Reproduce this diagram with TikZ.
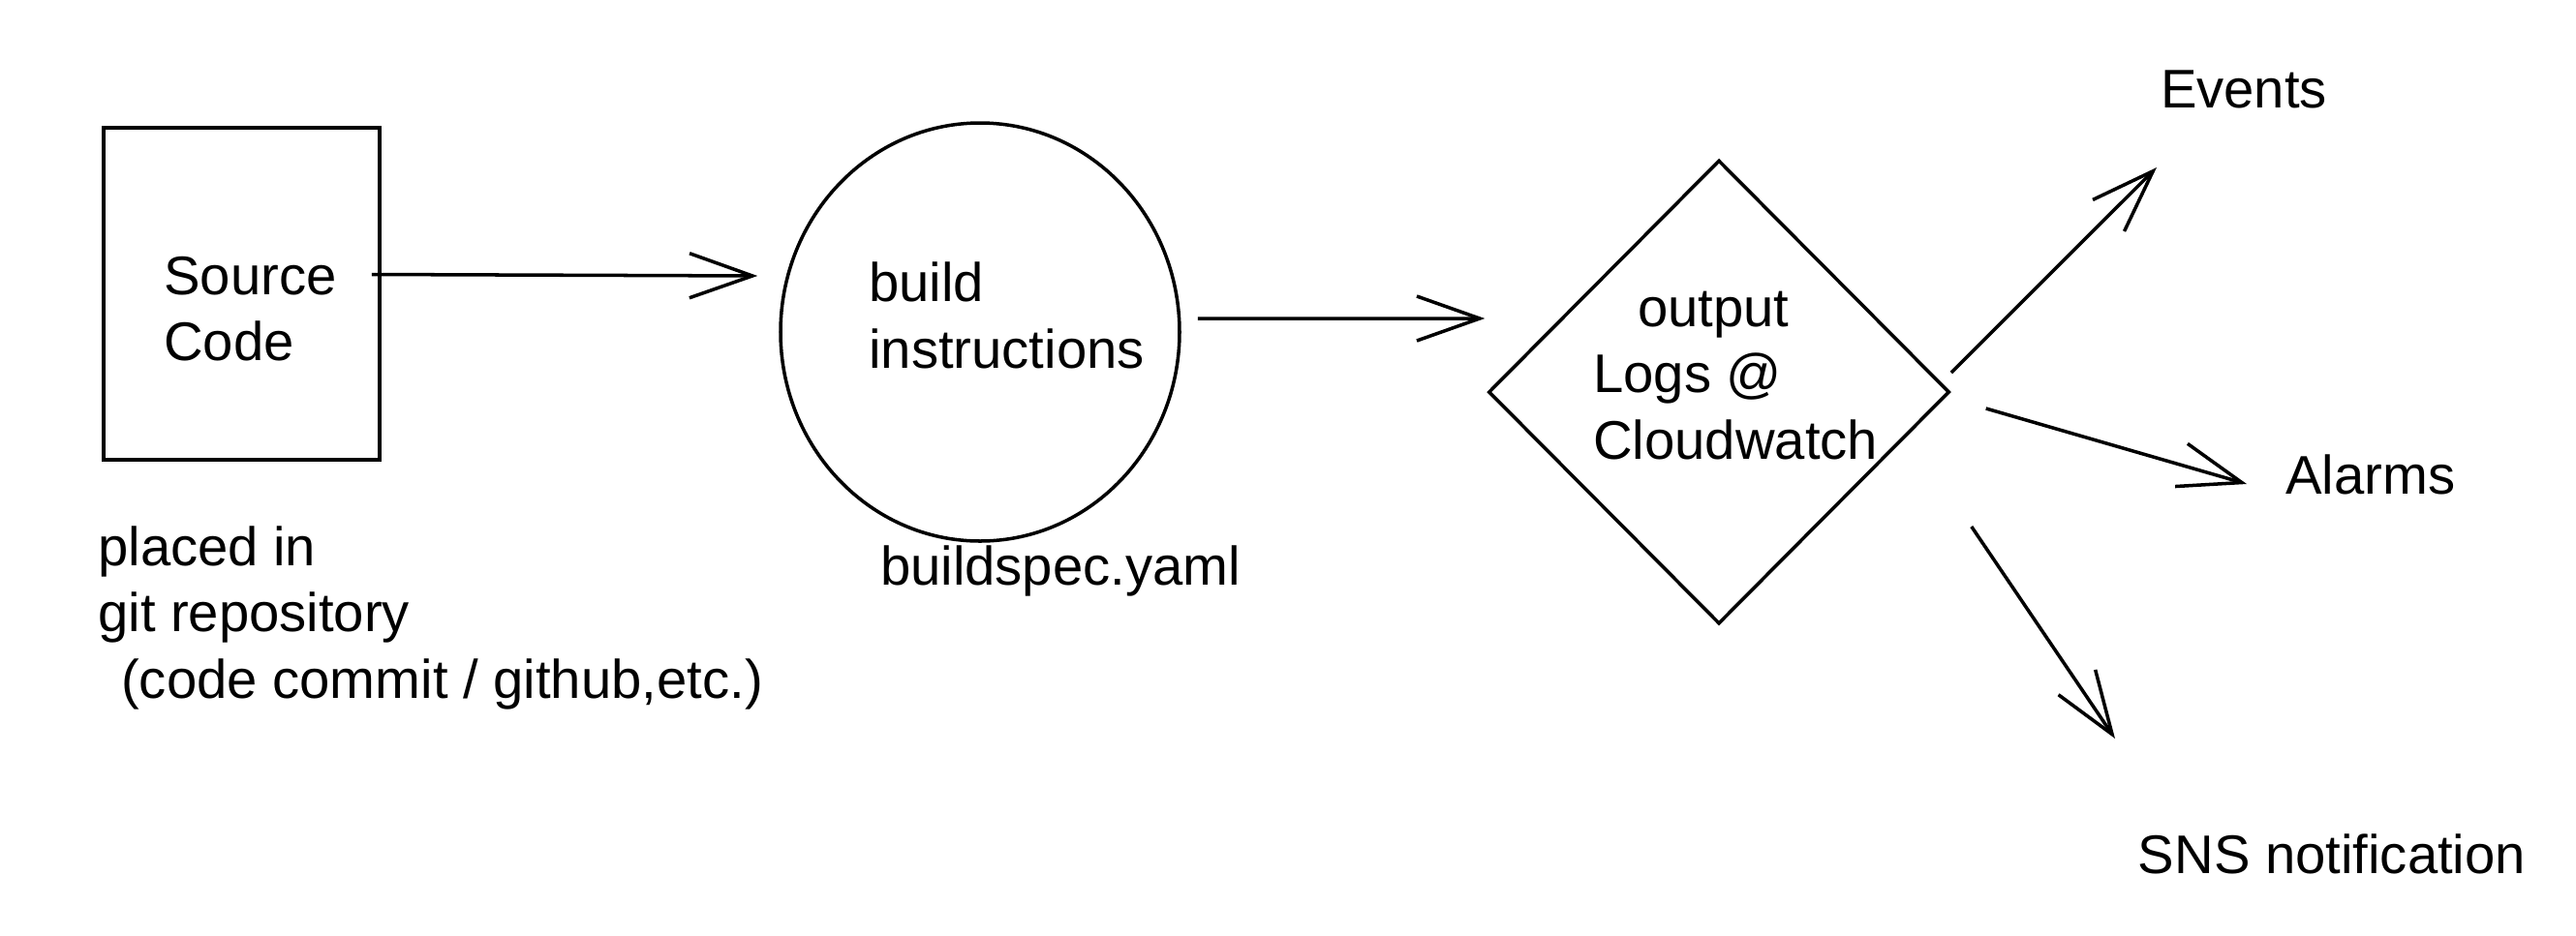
\documentclass[tikz,border=0pt]{standalone}
\usepackage{fontspec}
\setmainfont{Liberation Sans}
\usetikzlibrary{arrows.meta,shapes.geometric,positioning}

\begin{document}
\begin{tikzpicture}[-,line width=1pt,font=\fontsize{16}{19.5}\selectfont,
  main node/.style={draw,line width=1pt,inner sep=0pt},
  txt/.style={align=left,inner sep=1pt}]
\tikzstyle{sketch arrow} = [draw,line width=1pt,-{Straight Barb[length=6.5mm,width=4.6mm]}]

% Canvas
\useasboundingbox (0,0) rectangle (26.6,-9.66);

% Shapes
\node[main node,rectangle,minimum width=2.85cm,minimum height=3.43cm] (src) at (2.495,-3.035) {};
\node[main node,ellipse,minimum width=4.12cm,minimum height=4.32cm] (bld) at (10.12,-3.43) {};
\node[main node,diamond,minimum width=4.76cm,minimum height=4.79cm] (out) at (17.75,-4.05) {};

% Texts in shapes
\node[txt,anchor=west] (srctxt) at (1.64,-3.19) {Source\\Code};
\node[txt,anchor=west] (bldtxt) at (8.92,-3.26) {build\\instructions};
\node[txt,anchor=west] (outtxt) at (16.40,-3.88) {\hspace*{0.46cm}output\\Logs @\\Cloudwatch};

% Notes
\node[txt,anchor=west] (repo) at (0.96,-6.38) {placed in\\git repository\\\hspace*{0.24cm}(code commit / github,etc.)};
\node[txt] (spec) at (10.95,-5.9) {buildspec.yaml};

% Targets
\node[txt] (evt) at (23.17,-0.92) {Events};
\node[txt,anchor=west] (alm) at (23.55,-4.9) {Alarms};
\node[txt] (sns) at (24.08,-8.82) {SNS notification};

% Flow
\draw[sketch arrow] ([shift={(-0.1,0.2)}]src.east) -- ([shift={(-0.22,0.58)}]bld.west);
\draw[sketch arrow] ([shift={(0.17,0.14)}]bld.east) -- ([shift={(-0.02,0.76)}]out.west);

% Fan out
\draw[sketch arrow] ([shift={(0,0.2)}]out.east) -- ([shift={(-0.9,-0.81)}]evt.center);
\draw[sketch arrow] ([shift={(0.36,-0.17)}]out.east) -- ([shift={(-0.35,-0.1)}]alm.west);
\draw[sketch arrow] ([shift={(0.21,-1.39)}]out.east) -- ([shift={(-2.24,1.19)}]sns.center);

\end{tikzpicture}
\end{document}
